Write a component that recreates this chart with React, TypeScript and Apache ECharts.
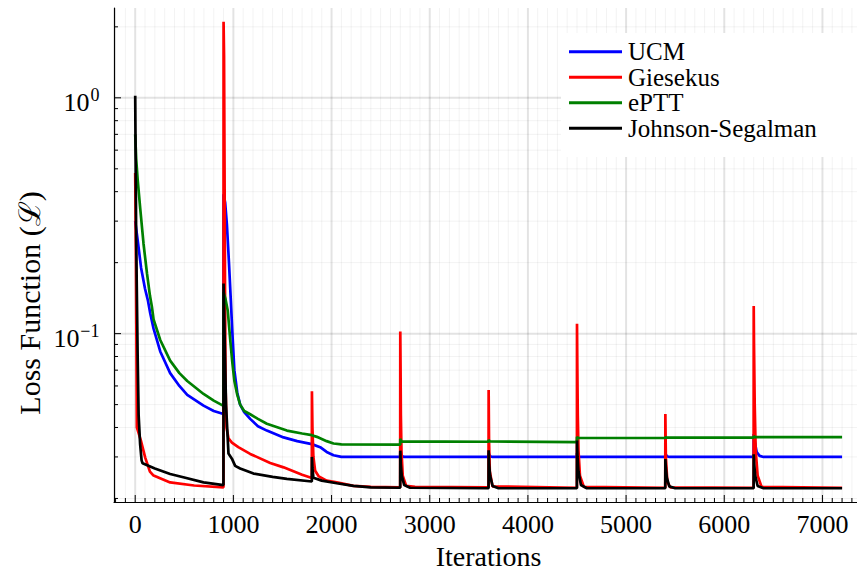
import React, { useEffect, useRef } from "react";
import * as echarts from "echarts";

const seriesNames = ["UCM", "Giesekus", "ePTT", "Johnson-Segalman"];
const seriesColors = ["#0000ff", "#ff0000", "#008000", "#000000"];

const ucm: [number, number][] = [
  [0, 0.30], [30, 0.24], [60, 0.19], [100, 0.155], [130, 0.138], [153, 0.122], [187, 0.105], [255, 0.084],
  [356, 0.068], [450, 0.06], [530, 0.055], [696, 0.0495], [800, 0.047], [899, 0.0456],
  [900, 0.39], [916, 0.36], [934, 0.29], [955, 0.2], [974, 0.138], [990, 0.1], [1010, 0.07], [1040, 0.056],
  [1069, 0.05], [1110, 0.0465], [1171, 0.0435], [1250, 0.0405], [1341, 0.0388], [1511, 0.0363], [1650, 0.035],
  [1799, 0.034], [1884, 0.033], [1950, 0.0315], [2020, 0.0305], [2100, 0.03], [2699, 0.03],
  [2700, 0.0314], [2715, 0.0303], [2740, 0.03], [3599, 0.03], [3600, 0.0311], [3615, 0.0302], [3640, 0.03],
  [4499, 0.03], [4500, 0.0312], [4515, 0.0302], [4540, 0.03], [5399, 0.03], [5400, 0.031], [5415, 0.0302],
  [5440, 0.03], [6299, 0.03], [6300, 0.0375], [6315, 0.034], [6330, 0.0315], [6360, 0.0303], [6400, 0.03],
  [7200, 0.03],
];

const giesekus: [number, number][] = [
  [0, 0.48], [8, 0.2], [17, 0.04], [58, 0.0352], [102, 0.0298], [150, 0.026], [187, 0.025], [356, 0.0234],
  [600, 0.0227], [899, 0.0223],
  [900, 2.1], [905, 1.5], [910, 0.5], [915, 0.15], [920, 0.06], [930, 0.04], [950, 0.036], [985, 0.0345],
  [1050, 0.033], [1171, 0.0309], [1375, 0.0283], [1511, 0.0271], [1700, 0.0252], [1799, 0.0244],
  [1800, 0.057], [1805, 0.04], [1815, 0.03], [1833, 0.0262], [1870, 0.0248], [1950, 0.0238], [2053, 0.0234],
  [2223, 0.0226], [2400, 0.0224], [2699, 0.0223],
  [2700, 0.102], [2703, 0.07], [2706, 0.045], [2712, 0.032], [2725, 0.025], [2760, 0.0226], [2850, 0.0224],
  [3599, 0.0223], [3600, 0.0577], [3604, 0.035], [3612, 0.026], [3640, 0.0225], [4499, 0.0222],
  [4500, 0.11], [4503, 0.075], [4508, 0.045], [4515, 0.032], [4530, 0.025], [4570, 0.0224], [5399, 0.0222],
  [5400, 0.0456], [5405, 0.03], [5420, 0.0235], [5450, 0.0223], [6299, 0.0222],
  [6300, 0.131], [6303, 0.09], [6310, 0.05], [6320, 0.032], [6340, 0.025], [6380, 0.0224], [7200, 0.0222],
];

const eptt: [number, number][] = [
  [0, 0.7], [10, 0.55], [25, 0.45], [51, 0.34], [85, 0.24], [120, 0.18], [150, 0.145], [170, 0.13],
  [187, 0.115], [255, 0.094], [356, 0.0768], [450, 0.068], [530, 0.063], [696, 0.0555], [800, 0.052],
  [899, 0.0494],
  [900, 0.15], [920, 0.14], [943, 0.125], [970, 0.092], [990, 0.075], [1010, 0.063], [1040, 0.055],
  [1069, 0.05], [1110, 0.047], [1171, 0.0455], [1250, 0.0435], [1341, 0.0415], [1545, 0.0388],
  [1700, 0.0377], [1799, 0.0371],
  [1800, 0.0373], [1850, 0.0365], [1950, 0.035], [2020, 0.0342], [2100, 0.0339], [2699, 0.0338],
  [2700, 0.0358], [2710, 0.0349], [3599, 0.0348], [3600, 0.0355], [3610, 0.0349], [4499, 0.0347],
  [4500, 0.0365], [4510, 0.0361], [5399, 0.0361], [5400, 0.0365], [5410, 0.0362], [6299, 0.0362],
  [6300, 0.0368], [6310, 0.0364], [7200, 0.0364],
];

const johnsonSegalman: [number, number][] = [
  [0, 1.02], [10, 0.25], [25, 0.08], [35, 0.045], [50, 0.034], [65, 0.029], [75, 0.0282], [200, 0.0268],
  [356, 0.0254], [490, 0.0246], [696, 0.0234], [899, 0.0228],
  [900, 0.163], [910, 0.1], [925, 0.05], [950, 0.031], [985, 0.0295], [1018, 0.0275], [1069, 0.0268],
  [1205, 0.0255], [1400, 0.0247], [1545, 0.0242], [1799, 0.0236],
  [1800, 0.03], [1805, 0.027], [1815, 0.0245], [1900, 0.0238], [2053, 0.0232], [2223, 0.0226],
  [2400, 0.0223], [2699, 0.0222],
  [2700, 0.0319], [2705, 0.028], [2715, 0.025], [2740, 0.0228], [2800, 0.0222], [3599, 0.0221],
  [3600, 0.032], [3605, 0.028], [3615, 0.025], [3640, 0.0226], [3700, 0.0221], [4499, 0.0221],
  [4500, 0.0352], [4505, 0.03], [4515, 0.026], [4540, 0.0228], [4600, 0.0221], [5399, 0.0221],
  [5400, 0.0294], [5405, 0.027], [5415, 0.0245], [5440, 0.0225], [5500, 0.0221], [6299, 0.0221],
  [6300, 0.0308], [6305, 0.028], [6315, 0.025], [6340, 0.0226], [6400, 0.0221], [7200, 0.0221],
];

const seriesData = [ucm, giesekus, eptt, johnsonSegalman];

const xMajorTicks = [0, 1000, 2000, 3000, 4000, 5000, 6000, 7000];
const xTickLabels = ["0", "1000", "2000", "3000", "4000", "5000", "6000", "7000"];
const yMajorTicks = [0.1, 1];
const yTickBase = ["10", "10"];
const yTickExp = ["\u22121", "0"];
const yMinorTicks = [0.02, 0.03, 0.04, 0.05, 0.06, 0.07, 0.08, 0.09, 0.2, 0.3, 0.4, 0.5, 0.6, 0.7, 0.8, 0.9, 2];
const xMinorTicks: number[] = [];
for (let v = -200; v <= 7300; v += 100) if (v % 1000 !== 0) xMinorTicks.push(v);

const X_MIN = -216;
const X_MAX = 7352;
const Y_MIN = 0.01932;
const Y_MAX = 2.404;

const FONT = "Liberation Serif";

export default function App() {
  const ref = useRef<HTMLDivElement>(null);
  useEffect(() => {
    document.body.style.margin = "0";
    if (!ref.current) return;
    const chart = echarts.init(ref.current, undefined, { renderer: "svg" });

    const gridData: number[][] = [];
    xMinorTicks.forEach((v) => gridData.push([v, Y_MIN, 0]));
    xMajorTicks.forEach((v) => gridData.push([v, Y_MIN, 1]));
    yMinorTicks.forEach((v) => gridData.push([X_MIN, v, 2]));
    yMajorTicks.forEach((v) => gridData.push([X_MIN, v, 3]));

    const option: any = {
      animation: false,
      backgroundColor: "#ffffff",
      grid: { left: 114, top: 8, right: 0, height: 494, containLabel: false },
      xAxis: {
        type: "value",
        min: X_MIN,
        max: X_MAX,
        splitNumber: 8,
        axisLine: { show: true, onZero: false, lineStyle: { color: "#000", width: 1.2 } },
        axisTick: { show: false },
        splitLine: { show: false },
        axisLabel: { show: false },
      },
      yAxis: {
        type: "log",
        logBase: 10,
        min: Y_MIN,
        max: Y_MAX,
        axisLine: { show: true, onZero: false, lineStyle: { color: "#000", width: 1.2 } },
        axisTick: { show: false },
        splitLine: { show: false },
        minorTick: { show: false },
        axisLabel: { show: false },
      },
      legend: { show: false, data: seriesNames },
      series: [
        {
          type: "custom",
          name: "_grid",
          silent: true,
          clip: false,
          z: 1,
          encode: { x: 0, y: 1 },
          data: gridData,
          renderItem: (_params: any, api: any) => {
            const t = api.value(2);
            const major = t === 1 || t === 3;
            const gridStyle = {
              stroke: major ? "rgba(0,0,0,0.11)" : "rgba(0,0,0,0.05)",
              lineWidth: major ? 2 : 1,
            };
            const tickStyle = { stroke: "#000", lineWidth: 1 };
            const len = major ? 7 : 4;
            if (t < 2) {
              const xv = api.value(0);
              const p0 = api.coord([xv, Y_MIN]);
              const p1 = api.coord([xv, Y_MAX]);
              return {
                type: "group",
                children: [
                  { type: "line", shape: { x1: p0[0], y1: p0[1], x2: p1[0], y2: p1[1] }, style: gridStyle },
                  { type: "line", shape: { x1: p0[0], y1: p0[1], x2: p0[0], y2: p0[1] - len }, style: tickStyle },
                ],
              };
            }
            const yv = api.value(1);
            const p0 = api.coord([X_MIN, yv]);
            const p1 = api.coord([X_MAX, yv]);
            return {
              type: "group",
              children: [
                { type: "line", shape: { x1: p0[0], y1: p0[1], x2: p1[0], y2: p1[1] }, style: gridStyle },
                { type: "line", shape: { x1: p0[0], y1: p0[1], x2: p0[0] + len, y2: p0[1] }, style: tickStyle },
              ],
            };
          },
        },
        ...seriesNames.map((name, i) => ({
          type: "line",
          name,
          data: seriesData[i],
          showSymbol: false,
          symbol: "none",
          z: 3,
          silent: true,
          color: seriesColors[i],
          lineStyle: { color: seriesColors[i], width: 2.7 },
          emphasis: { disabled: true },
        })),
      ],
    };
    chart.setOption(option);

    // Text elements, positioned through the chart's own axes
    const xAxisY = chart.convertToPixel({ yAxisIndex: 0 }, Y_MIN) as number;
    const gridLeft = chart.convertToPixel({ xAxisIndex: 0 }, X_MIN) as number;
    const gridRight = chart.convertToPixel({ xAxisIndex: 0 }, X_MAX) as number;
    const gridTop = chart.convertToPixel({ yAxisIndex: 0 }, Y_MAX) as number;

    const graphics: any[] = [];
    xMajorTicks.forEach((v, i) => {
      graphics.push({
        type: "text",
        x: chart.convertToPixel({ xAxisIndex: 0 }, v) as number,
        y: xAxisY + 22.5,
        z: 20,
        style: { text: xTickLabels[i], fill: "#000", font: `26px ${FONT}`, align: "center", verticalAlign: "middle" },
      });
    });
    const labelRight = gridLeft - 14.5;
    yMajorTicks.forEach((v, i) => {
      const py = chart.convertToPixel({ yAxisIndex: 0 }, v) as number;
      graphics.push({
        type: "text",
        x: labelRight,
        y: py - 3,
        z: 20,
        style: { text: yTickExp[i], fill: "#000", font: `18px ${FONT}`, align: "right", verticalAlign: "middle" },
      });
      const expWidth = i === 0 ? 19.5 : 9.5;
      graphics.push({
        type: "text",
        x: labelRight - expWidth - 0.5,
        y: py + 5,
        z: 20,
        style: { text: yTickBase[i], fill: "#000", font: `26px ${FONT}`, align: "right", verticalAlign: "middle" },
      });
    });
    graphics.push({
      type: "text",
      x: (gridLeft + 863) / 2,
      y: 556,
      z: 20,
      style: { text: "Iterations", fill: "#000", font: `28px ${FONT}`, align: "center", verticalAlign: "middle" },
    });
    graphics.push({
      type: "text",
      x: 29,
      y: 303,
      z: 20,
      rotation: Math.PI / 2,
      style: { text: "Loss Function (\u2112)", fill: "#000", font: `30px ${FONT}`, align: "center", verticalAlign: "middle" },
    });
    // legend box
    const legLeft = 561;
    const legTop = Math.max(gridTop, 33);
    graphics.push({
      type: "rect",
      z: 10,
      shape: { x: legLeft, y: legTop, width: gridRight - legLeft + 10, height: 124 },
      style: { fill: "#ffffff" },
    });
    seriesNames.forEach((name, i) => {
      const cy = legTop + 18.7 + i * 25.5;
      graphics.push({
        type: "line",
        z: 11,
        shape: { x1: legLeft + 8, y1: cy, x2: legLeft + 61, y2: cy },
        style: { stroke: seriesColors[i], lineWidth: 3 },
      });
      graphics.push({
        type: "text",
        x: legLeft + 67,
        y: cy,
        z: 11,
        style: { text: name, fill: "#000", font: `25px ${FONT}`, align: "left", verticalAlign: "middle" },
      });
    });
    chart.setOption({ graphic: graphics });
    return () => chart.dispose();
  }, []);
  return <div ref={ref} style={{ width: 857, height: 571 }} />;
}
